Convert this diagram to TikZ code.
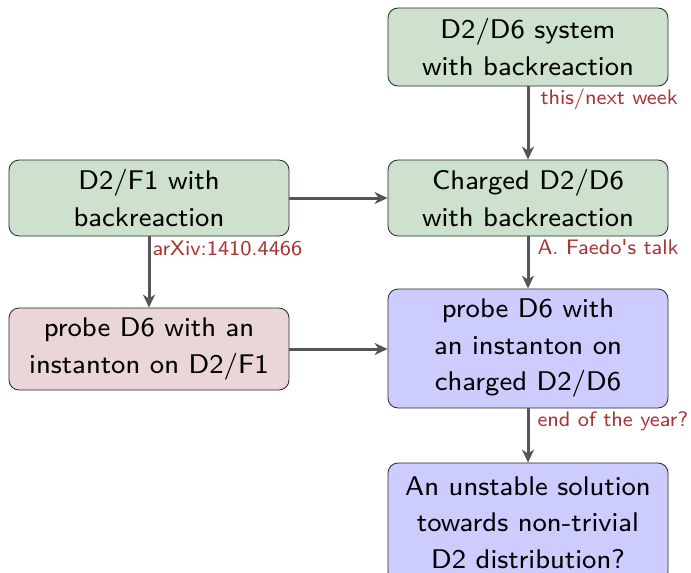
\documentclass[tikz,border=0pt]{standalone}
\usepackage{fontspec}
\usetikzlibrary{arrows.meta}
% the 8pt design of Latin Modern Sans, scaled up
\newfontfamily\stagefont[Extension=.otf]{lmsans8-regular}
\definecolor{boxgreen}{RGB}{206,225,206}
\definecolor{boxblue}{RGB}{204,204,255}
\definecolor{boxpink}{RGB}{234,214,214}
\definecolor{notered}{RGB}{166,52,52}
\definecolor{arrowgray}{RGB}{85,85,85}
\tikzset{
  stage/.style={draw=black!85, line width=0.8pt, rounded corners=10pt,
    minimum width=280pt, align=center, inner sep=4pt,
    font=\stagefont\fontsize{27}{36.5}\selectfont},
  greenbox/.style={stage, fill=boxgreen},
  bluebox/.style={stage, fill=boxblue},
  pinkbox/.style={stage, fill=boxpink},
  arr/.style={draw=arrowgray, line width=3pt,
    -{Stealth[length=13pt, width=12pt, inset=4pt]}},
  lbl/.style={text=notered, font=\stagefont\fontsize{21}{24}\selectfont,
    inner sep=2pt, anchor=north west}
}
\begin{document}
\begin{tikzpicture}[x=1pt, y=1pt]
  \useasboundingbox (0,0) rectangle (691,-573);

  % research stages
  \node[greenbox, minimum height=78pt] (sys)    at (528,-47)  {D2/D6 system\\with backreaction};
  \node[greenbox, minimum height=76pt] (charged) at (528,-198) {Charged D2/D6\\with backreaction};
  \node[greenbox, minimum height=76pt] (f1)     at (149,-198) {D2/F1 with\\backreaction};
  \node[pinkbox,  minimum height=82pt] (probef1) at (149,-349) {probe D6 with an\\instanton on D2/F1};
  \node[bluebox,  minimum height=119pt] (probech) at (528,-348.5) {probe D6 with\\an instanton on\\charged D2/D6};
  \node[bluebox,  minimum height=119pt] (unstable) at (528,-522.5) {An unstable solution\\towards non-trivial\\D2 distribution?};

  % dependencies between the stages
  \draw[arr] (sys) -- node[lbl, at start, xshift=9pt, yshift=1pt] {this/next week} (charged);
  \draw[arr] (f1) -- (charged);
  \draw[arr] (f1) -- node[lbl, at start, xshift=0pt, yshift=-1pt] {arXiv:1410.4466} (probef1);
  \draw[arr] (probef1.east) -- (probech.west |- probef1.east);
  \draw[arr] (charged) -- node[lbl, at start, xshift=6pt] {A. Faedo's talk} (probech);
  \draw[arr] (probech) -- node[lbl, at start, xshift=6pt] {end of the year?} (unstable);
\end{tikzpicture}
\end{document}
